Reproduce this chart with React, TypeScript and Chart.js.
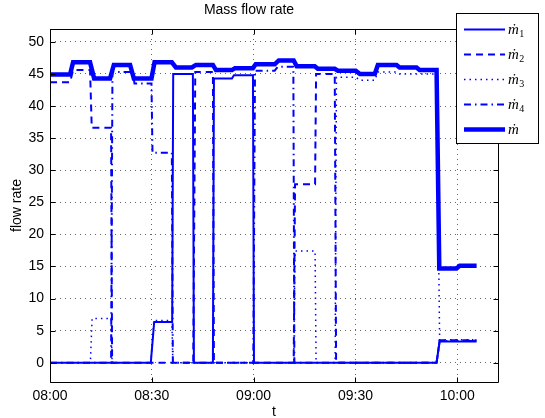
import React, { useEffect, useRef } from "react";
import { Chart, registerables } from "chart.js";

Chart.register(...registerables);

// x in minutes after 08:00
const xTickValues = [0, 30, 60, 90, 120];
const xTickLabels = ["08:00", "08:30", "09:00", "09:30", "10:00"];
const yTickValues = [0, 5, 10, 15, 20, 25, 30, 35, 40, 45, 50];

const mTime = [0, 5.9, 6.8, 11.8, 13.0, 17.7, 18.8, 23.6, 24.7, 29.9, 30.8, 35.9, 37.1, 41.8, 43.0, 48.0, 48.9, 53.6, 54.5, 59.8, 60.6, 66.2, 67.4, 71.8, 72.7, 78.0, 78.9, 83.9, 84.8, 90.1, 91.3, 95.7, 96.6, 102.1, 103.0, 108.0, 108.9, 113.9, 114.7, 119.8, 120.7, 125.7];
const mFlow = [44.9, 44.9, 46.8, 46.8, 44.3, 44.3, 46.4, 46.4, 44.3, 44.3, 46.8, 46.8, 46.0, 46.0, 46.4, 46.4, 45.6, 45.6, 45.9, 45.9, 46.5, 46.5, 47.1, 47.1, 46.2, 46.2, 45.8, 45.8, 45.5, 45.5, 45.0, 45.0, 46.4, 46.4, 46.0, 46.0, 45.6, 45.6, 14.7, 14.7, 15.1, 15.1];

const m1Time = [0, 29.7, 30.7, 36.0, 36.3, 42.1, 42.4, 48.0, 48.3, 53.6, 54.2, 59.8, 60.1, 113.9, 114.8, 125.7];
const m1Flow = [0, 0, 6.35, 6.35, 45.0, 45.0, 0, 0, 44.3, 44.3, 44.8, 44.8, 0, 0, 3.3, 3.3];

const m2Time = [0, 5.9, 6.8, 11.8, 12.3, 18.0, 18.3, 42.2, 42.8, 48.0, 48.3, 71.8, 72.2, 78.1, 78.4, 83.9, 84.3, 113.9, 114.8, 125.7];
const m2Flow = [43.7, 43.7, 45.6, 45.6, 36.6, 36.6, 0, 0, 45.3, 45.3, 0, 0, 27.8, 27.8, 45.0, 45.0, 0, 0, 3.5, 3.5];

const m3Time = [0, 11.9, 12.4, 18.0, 18.3, 29.7, 30.6, 35.9, 36.2, 71.8, 72.2, 78.1, 78.4, 84.0, 84.4, 90.1, 91.3, 95.7, 96.6, 102.1, 103.0, 113.9, 114.8, 125.7];
const m3Flow = [0, 0, 6.9, 6.9, 0, 0, 6.6, 6.6, 0, 0, 17.4, 17.4, 0, 0, 44.5, 44.5, 44.0, 44.0, 45.3, 45.3, 45.0, 45.0, 3.6, 3.6];

const m4Time = [0, 18.0, 18.4, 24.4, 24.9, 29.9, 30.2, 35.9, 36.2, 59.9, 60.4, 66.2, 67.1, 71.7, 72.0, 113.9, 114.8, 125.7];
const m4Flow = [0, 0, 45.3, 45.3, 43.5, 43.5, 32.7, 32.7, 0, 0, 45.5, 45.5, 46.1, 46.1, 0, 0, 3.4, 3.4];

const legendSubs = ["1", "2", "3", "4", ""];

const BLUE = "#0000ff";
const FONT = '"Liberation Sans", Arial, Helvetica, sans-serif';

const zip = (t: number[], v: number[]) => t.map((x, i) => ({ x, y: v[i] }));

const styles = [
  { width: 2, dash: [] as number[] },
  { width: 2, dash: [7, 5] },
  { width: 1.5, dash: [1.5, 4] },
  { width: 2, dash: [7, 4, 1.5, 4] },
  { width: 4.5, dash: [] as number[] },
];

const framePlugin = {
  id: "frame",
  afterDatasetsDraw(chart: any) {
    const { ctx, chartArea, scales } = chart;
    const l = Math.round(chartArea.left) + 0.5;
    const r = Math.round(chartArea.right) + 0.5;
    const t = Math.round(chartArea.top) + 0.5;
    const b = Math.round(chartArea.bottom) + 0.5;
    ctx.save();
    ctx.strokeStyle = "#000";
    ctx.lineWidth = 1;
    ctx.setLineDash([]);
    ctx.beginPath();
    ctx.rect(l, t, r - l, b - t);
    const tl = 5;
    xTickValues.forEach((v) => {
      const px = Math.round(scales.x.getPixelForValue(v)) + 0.5;
      ctx.moveTo(px, b);
      ctx.lineTo(px, b - tl);
      ctx.moveTo(px, t);
      ctx.lineTo(px, t + tl);
    });
    yTickValues.forEach((v) => {
      const py = Math.round(scales.y.getPixelForValue(v)) + 0.5;
      ctx.moveTo(l, py);
      ctx.lineTo(l + tl, py);
      ctx.moveTo(r, py);
      ctx.lineTo(r - tl, py);
    });
    ctx.stroke();
    ctx.restore();
  },
  afterDraw(chart: any) {
    const { ctx } = chart;
    ctx.save();
    const bx = 456.5, by = 13.5, bw = 82, bh = 130;
    ctx.fillStyle = "#fff";
    ctx.fillRect(bx, by, bw, bh);
    ctx.strokeStyle = "#000";
    ctx.lineWidth = 1;
    ctx.setLineDash([]);
    ctx.strokeRect(bx, by, bw, bh);
    legendSubs.forEach((sub, i) => {
      const y = 29.5 + 25 * i;
      const st = styles[i];
      ctx.strokeStyle = BLUE;
      ctx.lineWidth = st.width;
      ctx.setLineDash(st.dash);
      ctx.beginPath();
      ctx.moveTo(464, y);
      ctx.lineTo(505, y);
      ctx.stroke();
      ctx.setLineDash([]);
      ctx.fillStyle = "#000";
      ctx.textBaseline = "alphabetic";
      ctx.textAlign = "left";
      ctx.font = 'italic 15px "Liberation Serif", "DejaVu Serif", serif';
      ctx.fillText("\u1E41", 508, y + 4);
      const w = ctx.measureText("\u1E41").width;
      if (sub) {
        ctx.font = '10px "Liberation Serif", "DejaVu Serif", serif';
        ctx.fillText(sub, 508 + w + 0.5, y + 7);
      }
    });
    ctx.restore();
  },
};

export default function App() {
  const ref = useRef<HTMLCanvasElement | null>(null);
  useEffect(() => {
    if (!ref.current) return;
    const series = [
      zip(m1Time, m1Flow),
      zip(m2Time, m2Flow),
      zip(m3Time, m3Flow),
      zip(m4Time, m4Flow),
      zip(mTime, mFlow),
    ];
    const names = ["m1", "m2", "m3", "m4", "m"];
    const chart = new Chart(ref.current, {
      type: "line",
      data: {
        datasets: series.map((d, i) => ({
          label: names[i],
          data: d,
          borderColor: BLUE,
          backgroundColor: BLUE,
          borderWidth: styles[i].width,
          borderDash: styles[i].dash,
          pointRadius: 0,
          tension: 0,
          fill: false,
          order: i === 4 ? 0 : i + 1,
        })),
      },
      options: {
        responsive: false,
        animation: false,
        events: [],
        layout: { padding: { left: 0, right: 47, top: 0, bottom: 0 } },
        plugins: {
          legend: { display: false },
          tooltip: { enabled: false },
          title: {
            display: true,
            text: "Mass flow rate",
            color: "#000",
            font: { family: FONT, size: 14, weight: "normal" },
            padding: { top: 1.6, bottom: 10.6 },
          },
        },
        scales: {
          x: {
            type: "linear",
            min: 0,
            max: 132,
            afterBuildTicks: (s: any) => {
              s.ticks = xTickValues.map((v) => ({ value: v }));
            },
            afterFit: (s: any) => {
              s.height = 36;
            },
            ticks: {
              color: "#000",
              font: { family: FONT, size: 14 },
              padding: 6,
              maxRotation: 0,
              autoSkip: false,
              callback: (v: any) => {
                const i = xTickValues.indexOf(Number(v));
                return i >= 0 ? xTickLabels[i] : "";
              },
            },
            grid: { color: "#666", lineWidth: 1, drawTicks: false },
            border: { display: false, dash: [1, 4] },
            title: {
              display: true,
              text: "t",
              color: "#000",
              font: { family: FONT, size: 14, lineHeight: 0.8 },
              padding: { top: 0, bottom: 0 },
            },
          },
          y: {
            type: "linear",
            min: -3,
            max: 52,
            afterBuildTicks: (s: any) => {
              s.ticks = yTickValues.map((v) => ({ value: v }));
            },
            afterFit: (s: any) => {
              s.width = 50;
            },
            ticks: {
              color: "#000",
              font: { family: FONT, size: 14 },
              padding: 6,
              autoSkip: false,
            },
            grid: { color: "#666", lineWidth: 1, drawTicks: false },
            border: { display: false, dash: [1, 4] },
            title: {
              display: true,
              text: "flow rate",
              color: "#000",
              font: { family: FONT, size: 14 },
              padding: { top: 9, bottom: 0 },
            },
          },
        },
      },
      plugins: [framePlugin],
    } as any);
    return () => chart.destroy();
  }, []);
  return (
    <div style={{ position: "absolute", left: 0, top: 0, width: 545, height: 418, background: "#fff" }}>
      <canvas ref={ref} width={545} height={418} style={{ display: "block" }} />
    </div>
  );
}
